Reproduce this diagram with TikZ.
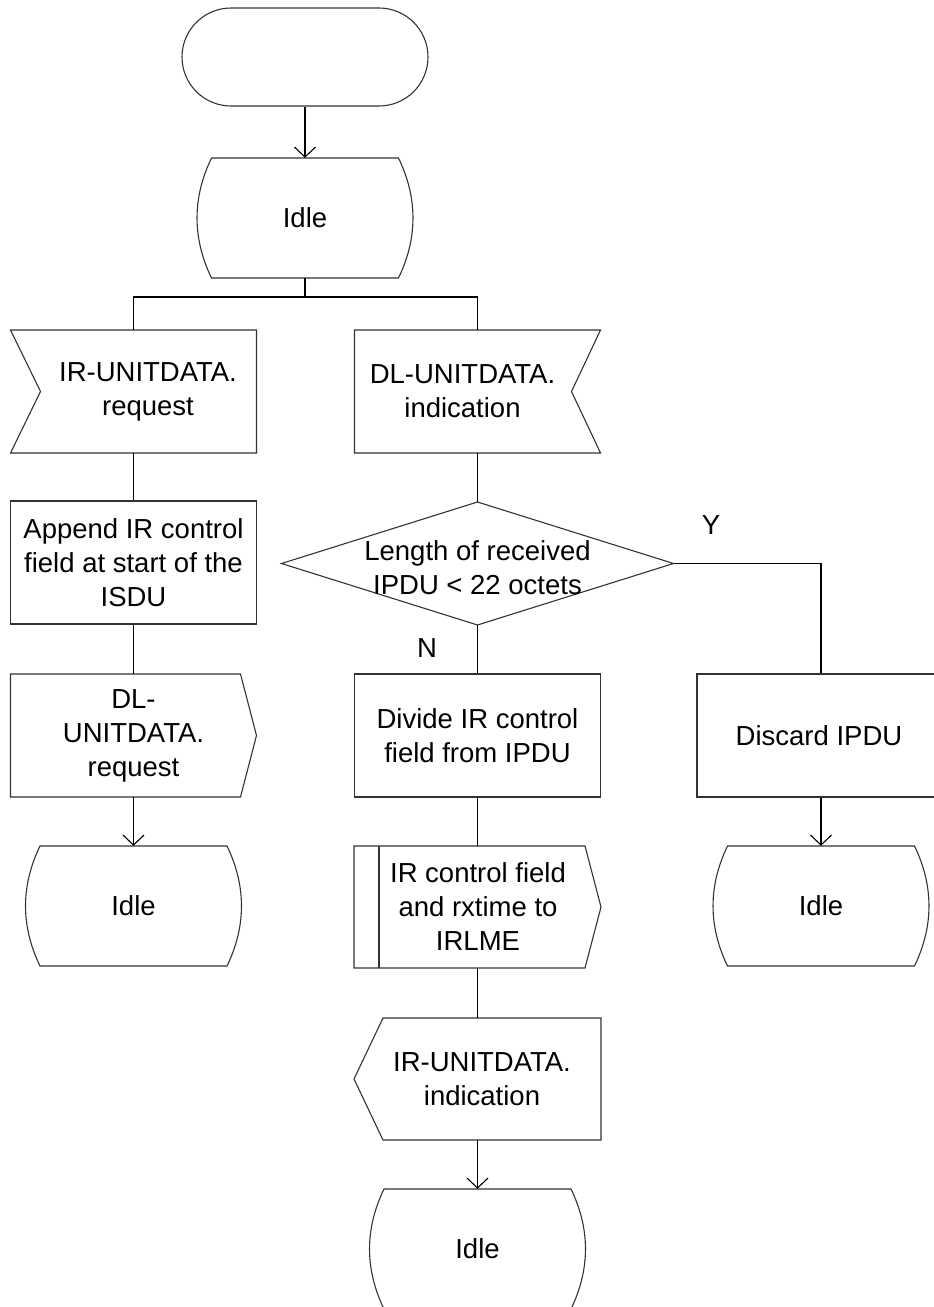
\documentclass[tikz,border=0pt]{standalone}
\usepackage{fontspec}
\setmainfont{Liberation Sans}
\usetikzlibrary{arrows.meta}
\begin{document}
\begin{tikzpicture}[x=1pt,y=-1pt,
  shp/.style={draw=black!80, line width=1.1pt},
  conn/.style={draw=black, line width=1.1pt},
  arr/.style={conn, -{Straight Barb[length=10pt,width=21pt]}},
  txt/.style={font=\fontsize{27.5}{34}\selectfont, align=center, inner sep=0pt},
  hold/.style={draw=none, inner sep=0pt, minimum width=246pt, minimum height=123pt},
  idlebox/.style={txt, draw=none, minimum width=216pt, minimum height=120pt},
  procbox/.style={txt, shp, minimum width=246pt, minimum height=123pt}]
\useasboundingbox (0,0) rectangle (934,1307);

\newcommand{\idleoutline}[1]{%
  \draw[shp,shift={(#1)}] (-93.5,-60) -- (93.5,-60)
    .. controls (112.8,-20) and (112.8,20) .. (93.5,60) -- (-93.5,60)
    .. controls (-112.8,20) and (-112.8,-20) .. (-93.5,-60) -- cycle;}

% start terminator
\node[shp, rounded corners=49pt, minimum width=246pt, minimum height=98pt, inner sep=0pt] (start) at (305,57) {};

% idle 1
\node[idlebox] (idle1) at (305,218) {Idle};
\idleoutline{305,218}

% IR-UNITDATA.request (input)
\node[hold] (irreq) at (133.5,391.5) {};
\draw[shp,shift={(133.5,391.5)}] (-123,-61.5) -- (123,-61.5) -- (123,61.5) -- (-123,61.5) -- (-93,0) -- cycle;
\node[txt] (irreqT) at (148,391.5) {IR-UNITDATA.\\request};

% DL-UNITDATA.indication (input)
\node[hold] (dlind) at (477.5,391.5) {};
\draw[shp,shift={(477.5,391.5)}] (-123,-61.5) -- (123,-61.5) -- (94,0) -- (123,61.5) -- (-123,61.5) -- cycle;
\node[txt] (dlindT) at (462.5,391.5) {DL-UNITDATA.\\indication};

% Append
\node[procbox] (append) at (133.5,562.5) {Append IR control\\field at start of the\\ISDU};

% decision
\node[hold, minimum width=392pt] (dec) at (477.5,563.5) {};
\draw[shp,shift={(477.5,563.5)}] (-196,0) -- (0,-61.5) -- (196,0) -- (0,61.5) -- cycle;
\node[txt] (decT) at (477.5,567.5) {Length of received\\IPDU < 22 octets};

% DL-UNITDATA.request (output)
\node[hold] (dlreq) at (133.5,735.5) {};
\draw[shp,shift={(133.5,735.5)}] (-123,-61.5) -- (107,-61.5) -- (123,0) -- (107,61.5) -- (-123,61.5) -- cycle;
\node[txt] (dlreqT) at (133.5,735.5) {DL-\\UNITDATA.\\request};

% Divide
\node[procbox] (divide) at (477.5,735.5) {Divide IR control\\field from IPDU};

% Discard
\node[procbox, minimum width=248pt] (discard) at (821,735.5) {};
\node[txt] (discardT) at (819,735.5) {Discard IPDU};

% idle 2 and 3
\node[idlebox] (idle2) at (133.5,906) {Idle};
\idleoutline{133.5,906}
\node[idlebox] (idle3) at (821,906) {Idle};
\idleoutline{821,906}

% IR control field to IRLME
\node[hold, minimum height=122pt] (irctl) at (477.5,907) {};
\draw[shp,shift={(477.5,907)}] (-123.5,-61) -- (107.5,-61) -- (123.5,0) -- (107.5,61) -- (-123.5,61) -- cycle;
\draw[shp,shift={(477.5,907)}] (-98.5,-61) -- (-98.5,61);
\node[txt] (irctlT) at (478,907) {IR control field\\and rxtime to\\IRLME};

% IR-UNITDATA.indication (output to left)
\node[hold, minimum height=122pt] (irind) at (477.5,1079) {};
\draw[shp,shift={(477.5,1079)}] (-94.5,-61) -- (123.5,-61) -- (123.5,61) -- (-94.5,61) -- (-123.5,0) -- cycle;
\node[txt] (irindT) at (482,1079) {IR-UNITDATA.\\indication};

% idle 4
\node[idlebox] (idle4) at (477.5,1249) {Idle};
\idleoutline{477.5,1249}

% labels
\node[txt] (ylab) at (711,525) {Y};
\node[txt] (nlab) at (427,648) {N};

% connectors
\coordinate (br) at (305,297);
\draw[arr] (start.south) -- (idle1.north);
\draw[conn] (idle1.south) -- (br);
\draw[conn] (br) -| (irreq.north);
\draw[conn] (br) -| (dlind.north);
\draw[conn] (irreq.south) -- (append.north);
\draw[conn] (append.south) -- (dlreq.north);
\draw[arr] (dlreq.south) -- (idle2.north);
\draw[conn] (dlind.south) -- (dec.north);
\draw[conn] (dec.south) -- (divide.north);
\draw[conn] (dec.east) -| (discard.north);
\draw[arr] (discard.south) -- (idle3.north);
\draw[conn] (divide.south) -- (irctl.north);
\draw[conn] (irctl.south) -- (irind.north);
\draw[arr] (irind.south) -- (idle4.north);
\end{tikzpicture}
\end{document}
